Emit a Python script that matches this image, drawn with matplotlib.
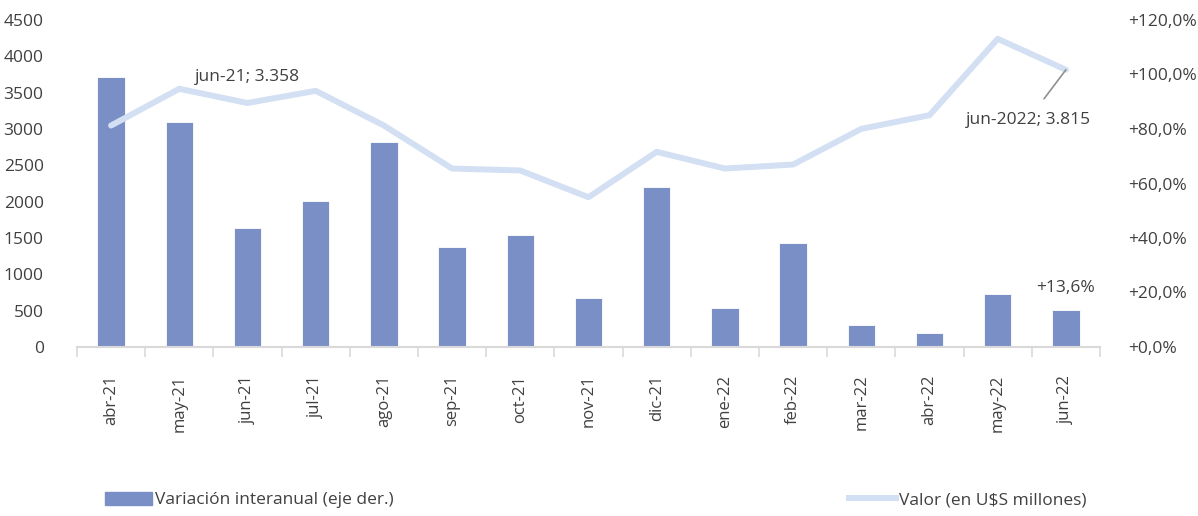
import matplotlib
matplotlib.use('Agg')
import matplotlib.pyplot as plt
from matplotlib.ticker import FixedLocator, FuncFormatter
from matplotlib.patches import Patch
from matplotlib.lines import Line2D

plt.rcParams['font.family'] = ['Open Sans', 'DejaVu Sans']

meses = ['abr-21', 'may-21', 'jun-21', 'jul-21', 'ago-21', 'sep-21', 'oct-21', 'nov-21',
         'dic-21', 'ene-22', 'feb-22', 'mar-22', 'abr-22', 'may-22', 'jun-22']
# variacion interanual (%), eje derecho
variacion = [99.2, 82.5, 43.5, 53.5, 75.1, 36.8, 41.2, 18.0, 58.6, 14.4, 38.3, 7.9, 5.0, 19.5, 13.6]
# valor en US$ millones, eje izquierdo
valor = [3048, 3553, 3358, 3525, 3048, 2456, 2429, 2061, 2686, 2456, 2511, 3002, 3190, 4241, 3815]

gris = '#404040'
barra = '#7B8FC7'
linea = '#D3DFF2'

fig = plt.figure(figsize=(11.98, 5.16), dpi=100)
ax = fig.add_axes([77/1198, 1-347/516, (1100-77)/1198, (347-20)/516])
ax2 = ax.twinx()
x = list(range(len(meses)))

ax.bar(x, variacion, width=0.4, color=barra, edgecolor='white', linewidth=0.6, zorder=2)
ax.set_ylim(0, 120)
ax.set_xlim(-0.5, len(meses) - 0.5)
ax.yaxis.tick_right()
ax.set_yticks([0, 20, 40, 60, 80, 100, 120])
ax.yaxis.set_major_formatter(FuncFormatter(lambda v, p: '+' + f'{v:.1f}'.replace('.', ',') + '%'))
ax.tick_params(axis='y', length=0, pad=20, labelsize=12.5, labelcolor=gris)
ax.set_xticks(x)
ax.set_xticklabels(meses, rotation=90)
ax.xaxis.set_minor_locator(FixedLocator([i - 0.5 for i in range(len(meses) + 1)]))
ax.tick_params(axis='x', which='major', length=0, pad=20, labelsize=12, labelcolor=gris)
ax.tick_params(axis='x', which='minor', length=7, width=1.2, color='#D9D9D9')
for s in ['top', 'left', 'right']:
    ax.spines[s].set_visible(False)
ax.spines['bottom'].set_color('#D9D9D9')
ax.spines['bottom'].set_linewidth(1.5)

ax2.plot(x, valor, color=linea, linewidth=4.3, solid_capstyle='round', zorder=3)
ax2.set_ylim(0, 4500)
ax2.yaxis.tick_left()
ax2.set_yticks(range(0, 4501, 500))
ax2.tick_params(axis='y', length=0, pad=24, labelsize=12.5, labelcolor=gris)
for s in ['top', 'left', 'right', 'bottom']:
    ax2.spines[s].set_visible(False)

ax2.text(2, 3722, 'jun-21; 3.358', ha='center', va='center', fontsize=12.5, color=gris)
ax2.annotate('jun-2022; 3.815', xy=(14, valor[14]), xytext=(13.45, 3130),
             ha='center', va='center', fontsize=12.5, color=gris,
             arrowprops=dict(arrowstyle='-', color='#909090', lw=1.2, shrinkA=9, shrinkB=0))
ax.text(14, 21.5, '+13,6%', ha='center', va='center', fontsize=12.5, color=gris)

fig.legend(handles=[Patch(color=barra)], labels=['Variación interanual (eje der.)'],
           loc='center left', bbox_to_anchor=(0.075, 0.031), frameon=False,
           fontsize=12.5, labelcolor=gris, handlelength=2.7, handleheight=0.8, handletextpad=0.15)
fig.legend(handles=[Line2D([], [], color=linea, linewidth=4.3)], labels=['Valor (en U$S millones)'],
           loc='center left', bbox_to_anchor=(0.696, 0.031), frameon=False,
           fontsize=12.5, labelcolor=gris, handlelength=2.7, handletextpad=0.15)

fig.savefig('out.png', dpi=100)
